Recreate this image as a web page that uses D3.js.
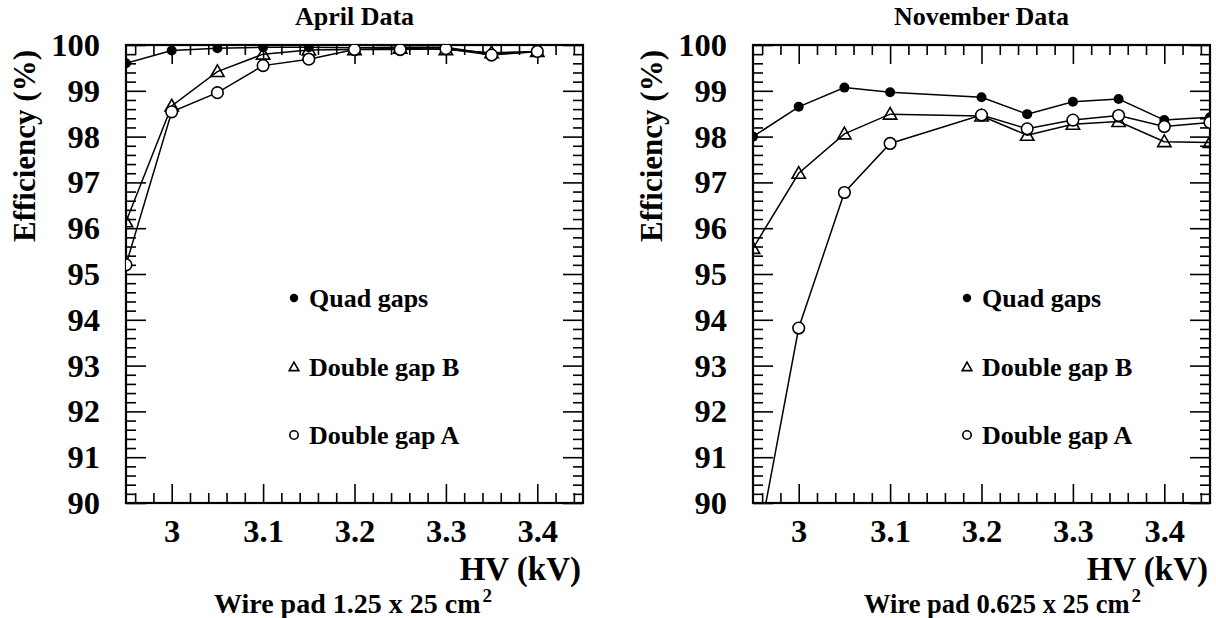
<!DOCTYPE html>
<html>
<head>
<meta charset="utf-8">
<script src="https://cdn.jsdelivr.net/npm/d3@7"></script>
<style>
  body { margin: 0; background: #fff; }
  svg text { font-family: "Liberation Serif", "Times New Roman", serif; font-weight: bold; fill: #000; }
</style>
</head>
<body>
<svg id="chart" width="1216" height="618"></svg>
<script>
// HV settings (kV) for each run
const hvApril = [2.95, 3.0, 3.05, 3.1, 3.15, 3.2, 3.25, 3.3, 3.35, 3.4];
const hvNovember = [2.95, 3.0, 3.05, 3.1, 3.2, 3.25, 3.3, 3.35, 3.4, 3.45];

// efficiencies (%)
const quadApril = [99.6, 99.88, 99.93, 99.95, 99.95, 99.94, 99.95, 99.95, 99.8, 99.85];
const gapBApril = [96.14, 98.67, 99.42, 99.8, 99.89, 99.9, 99.93, 99.9, 99.83, 99.86];
const gapAApril = [95.2, 98.54, 98.96, 99.55, 99.69, 99.9, 99.9, 99.92, 99.78, 99.86];

const quadNovember = [98.0, 98.65, 99.07, 98.97, 98.86, 98.49, 98.76, 98.82, 98.36, 98.42];
const gapBNovember = [95.56, 97.2, 98.06, 98.49, 98.45, 98.03, 98.27, 98.33, 97.89, 97.87];
const gapANovember = [88.5, 93.82, 96.78, 97.85, 98.47, 98.17, 98.36, 98.46, 98.22, 98.31];

const seriesNames = ['Quad gaps', 'Double gap B', 'Double gap A'];
const seriesMarkers = ['dot', 'triangle', 'circle'];

const xTicks = [3.0, 3.1, 3.2, 3.3, 3.4];
const yTicks = [90, 91, 92, 93, 94, 95, 96, 97, 98, 99, 100];

const svg = d3.select('#chart');

// draws a marker shape centred on 0,0
const drawMarker = (sel, kind, size) => {
	if (kind === 'dot') {
		sel.append('circle').attr('r', size).attr('fill', '#000');
	} else if (kind === 'circle') {
		sel.append('circle').attr('r', size).attr('fill', 'none').attr('stroke', '#000').attr('stroke-width', 1.6);
	} else {
		const s = size * 1.15;
		sel.append('path')
			.attr('d', `M0,${-s} L${s},${s * 0.75} L${-s},${s * 0.75} Z`)
			.attr('fill', 'none')
			.attr('stroke', '#000')
			.attr('stroke-width', 1.6);
	}
};

const drawPanel = (opts) => {
	const { left, right, top, bottom, id } = opts;
	const x = d3.scaleLinear().domain([2.95, 3.45]).range([left, right]);
	const y = d3.scaleLinear().domain([90, 100]).range([bottom, top]);
	const g = svg.append('g');

	g.append('clipPath').attr('id', id)
		.append('rect')
		.attr('x', left).attr('y', top)
		.attr('width', right - left).attr('height', bottom - top);

	const xMinor = d3.range(148, 173).map((d) => d / 50).filter((d) => !xTicks.some((t) => Math.abs(t - d) < 1e-6));
	const yMinor = d3.range(450, 501).map((d) => d / 5).filter((d) => d % 1 !== 0);

	// ticks on all four sides pointing inward (ROOT style)
	const axes = [
		[d3.axisBottom(x).tickValues(xTicks).tickSize(-19).tickPadding(16).tickFormat(d3.format('')), `translate(0,${bottom})`, true],
		[d3.axisBottom(x).tickValues(xMinor).tickSize(-10).tickFormat(''), `translate(0,${bottom})`],
		[d3.axisTop(x).tickValues(xTicks).tickSize(-19).tickFormat(''), `translate(0,${top})`],
		[d3.axisTop(x).tickValues(xMinor).tickSize(-10).tickFormat(''), `translate(0,${top})`],
		[d3.axisLeft(y).tickValues(yTicks).tickSize(-20).tickPadding(26), `translate(${left},0)`, true],
		[d3.axisLeft(y).tickValues(yMinor).tickSize(-10).tickFormat(''), `translate(${left},0)`],
		[d3.axisRight(y).tickValues(yTicks).tickSize(-20).tickFormat(''), `translate(${right},0)`],
		[d3.axisRight(y).tickValues(yMinor).tickSize(-10).tickFormat(''), `translate(${right},0)`],
	];
	axes.forEach(([axis, tr, labels]) => {
		const a = g.append('g').attr('transform', tr).call(axis);
		a.select('.domain').remove();
		a.selectAll('line').attr('stroke', '#000').attr('stroke-width', 1.6);
		if (labels) a.selectAll('text').attr('font-size', 32.5).attr('font-family', null);
	});

	g.append('rect')
		.attr('x', left).attr('y', top)
		.attr('width', right - left).attr('height', bottom - top)
		.attr('fill', 'none').attr('stroke', '#000').attr('stroke-width', 2.2);

	const plot = g.append('g').attr('clip-path', `url(#${id})`);
	const line = d3.line().x((d) => x(d[0])).y((d) => y(d[1]));
	opts.series.forEach((vals, i) => {
		const pts = opts.hv.map((h, j) => [h, vals[j]]);
		plot.append('path').datum(pts)
			.attr('d', line).attr('fill', 'none')
			.attr('stroke', '#000').attr('stroke-width', 1.5);
		pts.forEach((p) => {
			const m = plot.append('g').attr('transform', `translate(${x(p[0])},${y(p[1])})`);
			if (seriesMarkers[i] === 'circle') m.append('circle').attr('r', 5.8).attr('fill', '#fff');
			drawMarker(m, seriesMarkers[i], seriesMarkers[i] === 'dot' ? 5 : 5.8);
		});
	});

	// legend
	seriesNames.forEach((name, i) => {
		const ly = opts.legendY[i];
		const m = g.append('g').attr('transform', `translate(${opts.legendX},${ly})`);
		drawMarker(m, seriesMarkers[i], 4.2);
		g.append('text').attr('x', opts.legendX + 15).attr('y', ly + 9)
			.attr('font-size', 26).text(name);
	});

	// title sits centred over the 3.2 tick
	g.append('text').attr('x', x(3.2)).attr('y', 25)
		.attr('text-anchor', 'middle').attr('font-size', 26).text(opts.title);

	g.append('text').attr('transform', `translate(${opts.yLabelX},${opts.yLabelY}) rotate(-90)`)
		.attr('text-anchor', 'middle').attr('font-size', 31).text('Efficiency (%)');

	g.append('text').attr('x', right - 2).attr('y', 580)
		.attr('text-anchor', 'end').attr('font-size', 33).text('HV (kV)');

	// subtitle with a raised "2" placed by hand, as in the original
	const sub = g.append('text').attr('x', opts.subX).attr('y', 613)
		.attr('font-size', opts.subSize);
	sub.append('tspan').text(opts.subtitle);
	sub.append('tspan').attr('dx', 2).attr('dy', -11).attr('font-size', 19).text('2');
};

drawPanel({
	id: 'clip-april', left: 126, right: 583, top: 45, bottom: 503,
	hv: hvApril, series: [quadApril, gapBApril, gapAApril],
	title: 'April Data',
	subtitle: 'Wire pad 1.25 x 25 cm', subX: 214, subSize: 28,
	yLabelX: 35, yLabelY: 146,
	legendX: 294, legendY: [298, 367, 435],
});

drawPanel({
	id: 'clip-november', left: 753, right: 1210, top: 45, bottom: 503,
	hv: hvNovember, series: [quadNovember, gapBNovember, gapANovember],
	title: 'November Data',
	subtitle: 'Wire pad 0.625 x 25 cm', subX: 864, subSize: 26.5,
	yLabelX: 662, yLabelY: 146,
	legendX: 967, legendY: [298, 367, 435],
});
</script>
</body>
</html>
